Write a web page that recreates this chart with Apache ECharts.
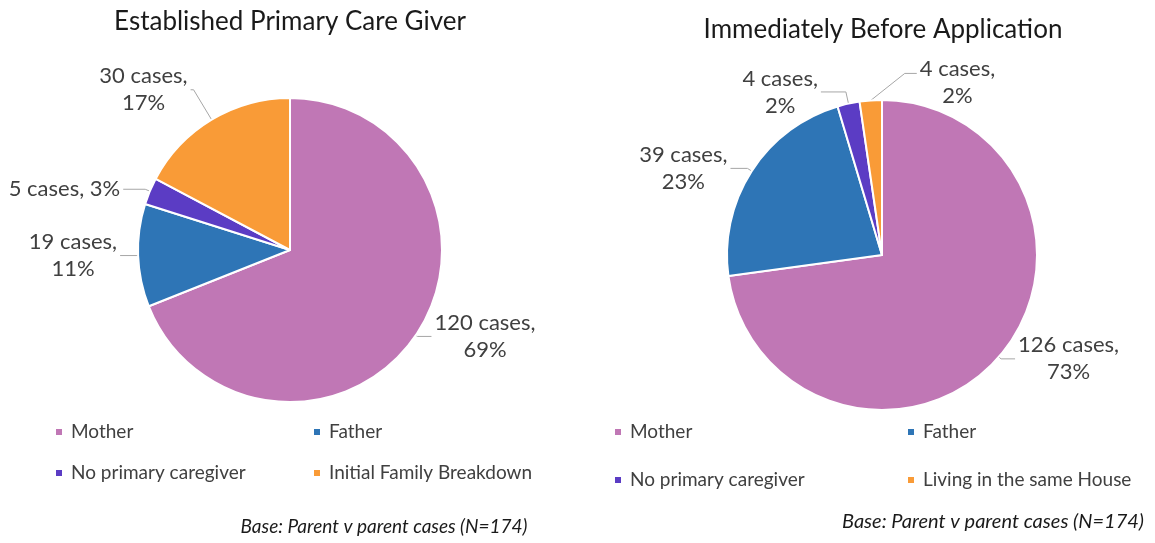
<!DOCTYPE html>
<html>
<head>
<meta charset="utf-8">
<title>Primary care giver</title>
<script src="https://cdn.jsdelivr.net/npm/echarts@6/dist/echarts.min.js"></script>
<style>
  html, body { margin: 0; background: #fff; }
  #chart { width: 1155px; height: 543px; }
</style>
</head>
<body>
<div id="chart"></div>
<script>
// data
const categoriesLeft = ['Mother', 'Father', 'No primary caregiver', 'Initial Family Breakdown'];
const casesLeft = [120, 19, 5, 30];
const categoriesRight = ['Mother', 'Father', 'No primary caregiver', 'Living in the same House'];
const casesRight = [126, 39, 4, 4];

const titleLeft = 'Established Primary Care Giver';
const titleRight = 'Immediately Before Application';
const baseNote = 'Base: Parent v parent cases (N=174)';

// styles
const colors = ['#c077b5', '#2e75b6', '#5b3cc4', '#f99b37'];
const FONT = 'Lato, "Open Sans", sans-serif';
const textColor = '#404040';

// [radial length, horizontal length] of each label line
const linesLeft = [[2, 14], [2, 16], [5, 22], [35, 3]];
const linesRight = [[3, 14], [5, 17], [12, 25], [0, 0]];

const labelRich = {
    t: { align: 'center', fontSize: 22, lineHeight: 27, color: textColor, fontFamily: FONT },
};

function twoLine(p) {
    return '{t|' + p.value + ' cases,}\n{t|' + p.percent + '%}';
}

function oneLine(p) {
    return '{t|' + p.value + ' cases, ' + p.percent + '%}';
}

function buildData(names, values, lines, singleLineIdx) {
    return values.map((v, i) => ({
        name: names[i],
        value: v,
        itemStyle: { color: colors[i] },
        labelLine: { length: lines[i][0], length2: lines[i][1] },
        label: i === singleLineIdx ? { formatter: oneLine } : {},
    }));
}

function pieSeries(center, radius, data) {
    return {
        type: 'pie',
        center: center,
        radius: radius,
        startAngle: 90,
        clockwise: true,
        avoidLabelOverlap: false,
        percentPrecision: 0,
        itemStyle: { borderColor: '#fff', borderWidth: 2 },
        label: {
            show: true,
            position: 'outside',
            formatter: twoLine,
            rich: labelRich,
            distanceToLabelLine: 3,
        },
        labelLine: {
            show: true,
            smooth: false,
            lineStyle: { color: '#a6a6a6', width: 1 },
        },
        emphasis: { disabled: true },
        data: data,
    };
}

const leftSeries = pieSeries([290, 250], 152, buildData(categoriesLeft, casesLeft, linesLeft, 2));
const rightSeries = pieSeries([882, 255], 155, buildData(categoriesRight, casesRight, linesRight, -1));

// the last small slice in the right pie has its label on the right side
rightSeries.labelLayout = function (p) {
    if (p.dataIndex !== 3) {
        return {};
    }
    const start = p.labelLinePoints[0];
    const bend = [start[0] + 34, start[1] - 27];
    const end = [bend[0] + 12, bend[1]];
    return {
        x: end[0] + 3,
        y: end[1] + 9,
        align: 'left',
        verticalAlign: 'middle',
        labelLinePoints: [start, bend, end],
    };
};

const legendText = { fontSize: 19, color: textColor, fontFamily: FONT, lineHeight: 20, padding: [0, 0, 0, 3] };

function legendBox(left, top, gap, names) {
    return {
        orient: 'vertical',
        left: left,
        top: top,
        itemGap: gap,
        icon: 'rect',
        itemWidth: 8,
        itemHeight: 8,
        padding: 0,
        selectedMode: false,
        textStyle: legendText,
        data: names,
    };
}

const chart = echarts.init(document.getElementById('chart'));

chart.setOption({
    animation: false,
    legend: [
        legendBox(54, 422, 21, [categoriesLeft[0], categoriesLeft[2]]),
        legendBox(312, 422, 21, [categoriesLeft[1], categoriesLeft[3]]),
        legendBox(613, 422, 28, [categoriesRight[0], categoriesRight[2]]),
        legendBox(906, 422, 28, [categoriesRight[1], categoriesRight[3]]),
    ],
    graphic: [
        {
            type: 'text', x: 290, y: 22,
            style: { text: titleLeft, align: 'center', verticalAlign: 'middle', fontSize: 26, fontFamily: FONT, fill: '#1a1a1a' },
        },
        {
            type: 'text', x: 883, y: 30,
            style: { text: titleRight, align: 'center', verticalAlign: 'middle', fontSize: 26, fontFamily: FONT, fill: '#1a1a1a' },
        },
        {
            type: 'text', x: 384, y: 527,
            style: { text: baseNote, align: 'center', verticalAlign: 'middle', fontSize: 19, fontStyle: 'italic', fontFamily: FONT, fill: '#1a1a1a' },
        },
        {
            type: 'text', x: 993, y: 522,
            style: { text: baseNote, align: 'center', verticalAlign: 'middle', fontSize: 20, fontStyle: 'italic', fontFamily: FONT, fill: '#1a1a1a' },
        },
    ],
    series: [leftSeries, rightSeries],
});

window.addEventListener('resize', () => chart.resize());
</script>
</body>
</html>
